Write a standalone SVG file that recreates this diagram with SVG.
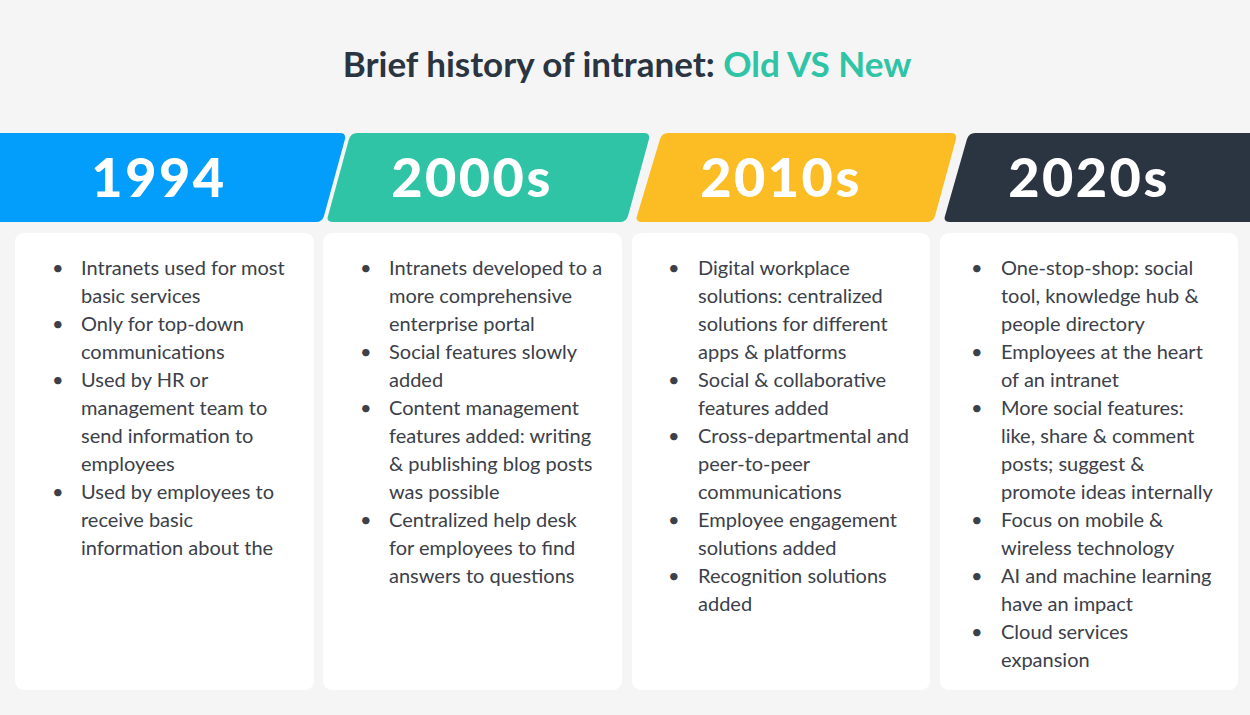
<svg xmlns="http://www.w3.org/2000/svg" width="1250" height="715" viewBox="0 0 1250 715">
<style>
.title{font-family:Lato,"Open Sans",sans-serif;font-weight:700;font-size:35px;fill:#2b3441}
.year{font-family:Lato,"Open Sans",sans-serif;font-weight:900;font-size:54px;fill:#ffffff;text-anchor:middle;letter-spacing:2.5px}
.card{fill:#ffffff}
.body{font-family:Lato,"Open Sans",sans-serif;font-size:20px;fill:#3b4049}
</style>
<rect width="1250" height="715" fill="#f5f5f5"/>
<g id="title">
<text class="title" x="627" y="77" text-anchor="middle">Brief history of intranet: <tspan fill="#2ec4a5">Old VS New</tspan></text>
</g>
<g id="node-1994">
<path d="M0 133 H340 Q346 133 345 139 L324 216 Q322 222 316 222 H0 Z" fill="#039dfc"/>
<text class="year" x="159" y="197">1994</text>
<rect class="card" x="15" y="233" width="299" height="457" rx="9"/>
<g class="body">
<text x="52" y="275">•</text><text x="81" y="275">Intranets used for most</text>
<text x="81" y="303">basic services</text>
<text x="52" y="331">•</text><text x="81" y="331">Only for top-down</text>
<text x="81" y="359">communications</text>
<text x="52" y="387">•</text><text x="81" y="387">Used by HR or</text>
<text x="81" y="415">management team to</text>
<text x="81" y="443">send information to</text>
<text x="81" y="471">employees</text>
<text x="52" y="499">•</text><text x="81" y="499">Used by employees to</text>
<text x="81" y="527">receive basic</text>
<text x="81" y="555">information about the</text>
</g>
</g>
<g id="node-2000s">
<path d="M357 133 H644 Q650 133 649 139 L628 216 Q626 222 620 222 H333 Q326 222 328 216 L349 139 Q351 133 357 133 Z" fill="#2ec4a5"/>
<text class="year" x="472" y="197">2000s</text>
<rect class="card" x="323" y="233" width="299" height="457" rx="9"/>
<g class="body">
<text x="360" y="275">•</text><text x="389" y="275">Intranets developed to a</text>
<text x="389" y="303">more comprehensive</text>
<text x="389" y="331">enterprise portal</text>
<text x="360" y="359">•</text><text x="389" y="359">Social features slowly</text>
<text x="389" y="387">added</text>
<text x="360" y="415">•</text><text x="389" y="415">Content management</text>
<text x="389" y="443">features added: writing</text>
<text x="389" y="471">&amp; publishing blog posts</text>
<text x="389" y="499">was possible</text>
<text x="360" y="527">•</text><text x="389" y="527">Centralized help desk</text>
<text x="389" y="555">for employees to find</text>
<text x="389" y="583">answers to questions</text>
</g>
</g>
<g id="node-2010s">
<path d="M668 133 H951 Q957 133 956 139 L935 216 Q933 222 927 222 H642 Q635 222 637 216 L660 139 Q662 133 668 133 Z" fill="#fbbc24"/>
<text class="year" x="781" y="197">2010s</text>
<rect class="card" x="632" y="233" width="298" height="457" rx="9"/>
<g class="body">
<text x="668" y="275">•</text><text x="698" y="275">Digital workplace</text>
<text x="698" y="303">solutions: centralized</text>
<text x="698" y="331">solutions for different</text>
<text x="698" y="359">apps &amp; platforms</text>
<text x="668" y="387">•</text><text x="698" y="387">Social &amp; collaborative</text>
<text x="698" y="415">features added</text>
<text x="668" y="443">•</text><text x="698" y="443">Cross-departmental and</text>
<text x="698" y="471">peer-to-peer</text>
<text x="698" y="499">communications</text>
<text x="668" y="527">•</text><text x="698" y="527">Employee engagement</text>
<text x="698" y="555">solutions added</text>
<text x="668" y="583">•</text><text x="698" y="583">Recognition solutions</text>
<text x="698" y="611">added</text>
</g>
</g>
<g id="node-2020s">
<path d="M975 133 H1250 V222 H950 Q943 222 945 216 L967 139 Q969 133 975 133 Z" fill="#2b3441"/>
<text class="year" x="1089" y="197">2020s</text>
<rect class="card" x="940" y="233" width="298" height="457" rx="9"/>
<g class="body">
<text x="971" y="275">•</text><text x="1001" y="275">One-stop-shop: social</text>
<text x="1001" y="303">tool, knowledge hub &amp;</text>
<text x="1001" y="331">people directory</text>
<text x="971" y="359">•</text><text x="1001" y="359">Employees at the heart</text>
<text x="1001" y="387">of an intranet</text>
<text x="971" y="415">•</text><text x="1001" y="415">More social features:</text>
<text x="1001" y="443">like, share &amp; comment</text>
<text x="1001" y="471">posts; suggest &amp;</text>
<text x="1001" y="499">promote ideas internally</text>
<text x="971" y="527">•</text><text x="1001" y="527">Focus on mobile &amp;</text>
<text x="1001" y="555">wireless technology</text>
<text x="971" y="583">•</text><text x="1001" y="583">AI and machine learning</text>
<text x="1001" y="611">have an impact</text>
<text x="971" y="639">•</text><text x="1001" y="639">Cloud services</text>
<text x="1001" y="667">expansion</text>
</g>
</g>
<g id="connectors"></g>
</svg>
